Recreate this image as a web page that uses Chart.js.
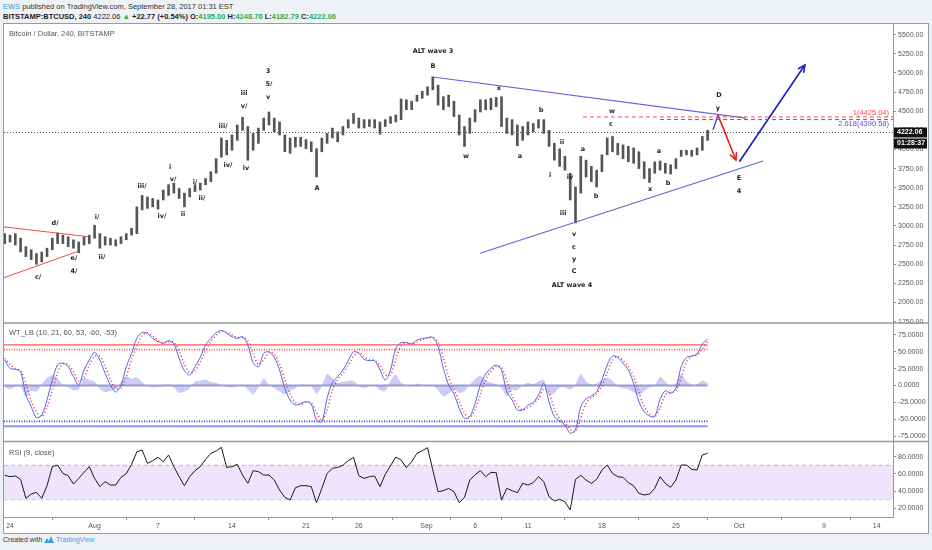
<!DOCTYPE html>
<html>
<head>
<meta charset="utf-8">
<script src="https://cdn.jsdelivr.net/npm/chart.js@4.4.0/dist/chart.umd.min.js"></script>
<style>
body { margin: 0; width: 932px; height: 550px; overflow: hidden; background: #eef1f5; font-family: "Liberation Sans", Arial, sans-serif; }
#h1 { position: absolute; left: 3px; top: 2px; font-size: 7.5px; color: #333; white-space: nowrap; }
#h2 { position: absolute; left: 3px; top: 12px; font-size: 7.5px; color: #222; font-weight: bold; white-space: nowrap; }
#h2 .g { color: #2fa84f; }
#box { position: absolute; left: 3px; top: 23px; width: 924px; height: 509px; border: 1px solid #9a9a9a; background: #fff; }
#ft { position: absolute; left: 3px; top: 536px; font-size: 7px; color: #333; white-space: nowrap; }
#ft .tv { color: #3aa3e3; }
</style>
</head>
<body>
<div id="h1"><span style="color:#2e9be6">EWS</span> published on TradingView.com, September 28, 2017 01:31 EST</div>
<div id="h2">BITSTAMP:BTCUSD, 240 <span style="font-weight:normal">4222.06</span> <span class="g">▲</span> +22.77 (+0.54%) O:<span class="g">4195.00</span> H:<span class="g">4248.76</span> L:<span class="g">4182.79</span> C:<span class="g">4222.06</span></div>
<div id="box"><canvas id="c" width="924" height="509"></canvas></div>
<div id="ft">Created with <svg width="10" height="7" viewBox="0 0 10 7" style="vertical-align:-1px"><path d="M0 7 L3 2 L5 5 L7 0 L10 7 Z" fill="#3aa3e3"/></svg> <span class="tv">TradingView</span></div>
<script>
// days counted from 24 Jul 2017, one bar every 12 hours
const firstBarDay = -0.5;
const barStep = 0.5;

const barLow = [2770,2790,2750,2660,2600,2560,2500,2530,2600,2690,
  2770,2770,2730,2710,2650,2750,2770,2840,2710,2750,
  2750,2740,2770,2820,2880,2900,3210,3230,3250,3220,
  3340,3400,3430,3360,3250,3380,3450,3470,3540,3580,
  3690,3900,3930,3990,4120,4250,3860,3990,4080,4250,
  4320,4230,4190,3970,3950,4030,4040,4010,3970,3640,
  3970,4080,4150,4100,4190,4280,4340,4280,4280,4300,
  4280,4200,4300,4340,4360,4390,4520,4520,4630,4670,
  4710,4780,4580,4520,4560,4430,4190,4040,4210,4360,
  4490,4520,4520,4560,4300,4210,4190,4050,4120,4190,
  4230,4280,4210,4040,3860,3780,3730,3340,3040,3430,
  3640,3580,3510,3710,3930,3970,3930,3880,3840,3820,
  3750,3620,3570,3690,3730,3690,3680,3750,3910,3930,
  3910,3930,3990,4120];
const barHigh = [2900,2880,2900,2840,2730,2690,2640,2660,2710,2840,
  2910,2880,2860,2820,2790,2860,2880,3010,2900,2860,
  2840,2820,2860,2900,2970,3250,3400,3380,3360,3340,
  3470,3540,3560,3490,3430,3490,3540,3560,3620,3710,
  3880,4150,4120,4190,4320,4420,4300,4210,4280,4410,
  4490,4410,4360,4190,4150,4160,4160,4130,4100,4010,
  4150,4210,4280,4230,4300,4390,4470,4410,4390,4390,
  4390,4360,4390,4430,4450,4660,4650,4630,4710,4760,
  4820,4950,4840,4690,4710,4630,4450,4300,4410,4520,
  4650,4650,4670,4680,4690,4410,4390,4320,4300,4360,
  4340,4390,4390,4250,4080,4010,3910,3690,3510,3910,
  3860,3780,3730,3930,4150,4170,4080,4060,4040,4020,
  3970,3840,3750,3840,3850,3820,3800,3880,3990,3990,
  3990,4020,4170,4250];

const wt1 = [37.7,25.3,23.9,20.4,-14,-31.2,-47.5,-43.5,-21.4,8.1,
  30.3,33.2,27.8,13,0.7,22.9,37.6,49,37.6,18,
  0.7,-9.6,0.7,27.8,47.5,69.6,78.5,77,69.6,64.7,
  62.3,66.2,61.3,40.1,21.9,15.5,27.8,41.6,59.8,69.6,
  78,81.4,77,72.1,69.6,72.1,59.8,33.7,27.8,47.5,
  49.9,41.6,22.9,-4.2,-21.4,-28.8,-26.3,-23.9,-27.3,-50.9,
  -53.4,-18.9,4.2,13,22.9,36.7,49.9,47.5,38.6,36.7,
  36.7,22.9,8.1,22.9,54.9,63.2,63.2,61.3,67.2,69.1,
  70.6,71.1,57.3,25.3,0.7,-12.5,-33.7,-48.5,-46,-26.3,
  0.7,17,25.3,30.3,22.9,-9.1,-21.4,-36.2,-36.2,-28.8,
  -25.3,-14,3.2,-23.9,-46,-52.4,-58.3,-70.6,-65.7,-31.2,
  -19.9,-15.5,-9.1,8.1,30.3,43.6,41.6,32.7,22.9,3.2,
  -23.9,-38.6,-45,-46,-20.4,-7.6,-11.6,-4.2,27.8,41.6,
  43.6,46.5,61.3,68.6];
const wt2 = [40,31,25,22,3,-23,-39,-46,-32,-7,
  19,32,31,20,7,12,30,43,43,28,
  9,-4,-4,14,38,58,74,78,73,67,
  63,64,64,51,31,19,22,35,51,65,
  74,80,79,75,71,71,66,47,31,38,
  49,46,32,9,-13,-25,-28,-25,-26,-39,
  -52,-36,-7,9,18,30,43,49,43,38,
  37,30,16,16,39,59,63,62,64,68,
  70,71,64,41,13,-6,-23,-41,-47,-36,
  -13,9,21,28,27,7,-15,-29,-36,-33,
  -27,-20,-5,-10,-35,-49,-55,-65,-68,-48,
  -26,-18,-12,0,19,37,43,37,28,13,
  -10,-31,-42,-46,-33,-14,-10,-8,12,35,
  43,45,54,65];
const wtHist = [-2,-6,-1,-2,-17,-8,-9,2,11,15,
  11,1,-3,-7,-6,11,8,6,-5,-10,
  -8,-6,5,14,10,12,5,-1,-3,-2,
  -1,2,-3,-11,-9,-4,6,7,9,5,
  4,1,-2,-3,-1,1,-6,-13,-3,10,
  1,-4,-9,-13,-8,-4,2,1,-1,-12,
  -1,17,11,4,5,7,7,-1,-4,-1,
  0,-7,-8,7,16,4,0,-1,3,1,
  1,0,-7,-16,-12,-6,-11,-8,1,10,
  14,8,4,2,-4,-16,-7,-7,0,4,
  2,6,8,-14,-11,-3,-3,-6,2,17,
  6,2,3,8,11,7,-1,-4,-5,-10,
  -14,-8,-3,0,13,6,-2,4,16,7,
  1,2,7,4];
const rsi = [58.3,56.8,57.6,53.7,31.6,36.6,38.6,31.6,46.3,68.4,
  70.3,60.6,57.9,48.2,54.8,61.8,68.4,54.8,45.2,51,
  47.1,47.1,56,60.3,71.1,85.8,87.8,72.3,75.4,79.3,
  74.2,82,68.4,56.8,46.3,56.8,63.8,68.4,76.9,83.9,
  86.6,90.9,67.6,68.4,71.1,58.7,49,63.8,62.6,58.7,
  58.7,52.9,41.3,32.7,29.6,44,46.3,46.3,45.2,26.5,
  43.2,60.6,66.5,67.6,70,75.4,79.3,57.9,54.8,56.8,
  57.6,45.2,59.5,69.6,79.6,76.2,67.2,74.2,83.9,87,
  90.5,64.5,39.3,40.5,43.2,39.3,26.5,32.7,52.9,59.1,
  63.8,56.8,61.8,61.4,29.6,43.2,40.5,38.2,49,47.1,
  49.8,56.8,51,33.5,28.5,30.4,27.7,18,53.7,58.3,
  52.9,49,53.7,64.5,70.3,60.6,56.8,56,49.8,46.3,
  37.4,35.5,36.6,43.2,56.8,49,44.4,52.9,70.3,70.3,
  65.3,64.5,82,84];

const xTickDays = [0, 8, 14, 21, 28, 33, 39.4, 44, 49, 56, 63, 69, 77, 82];
const xTickLabels = ['24', 'Aug', '7', '14', '21', '26', 'Sep', '6', '11', '18', '25', 'Oct', '9', '14'];
const priceTicks = [1750,2000,2250,2500,2750,3000,3250,3500,3750,4000,4250,4500,4750,5000,5250,5500];
const wtTicks = [-75, -50, -25, 0, 25, 50, 75];
const rsiTicks = [20, 40, 60, 80];

const lastClose = 4222.06;
const fibLevels = [4425.04, 4390.58];
const fibTexts = ['1(4425.04)', '2.618(4390.58)'];
const fibStartDays = [54.2, 61.5];
const wtLevels = [60, 53, 0, -53, -60];

const redWedgeTop = [[-0.66, 2990], [7.38, 2860]];
const redWedgeBottom = [[-0.66, 2320], [6.34, 2664]];
const blueWedgeTop = [[40.02, 4947], [69.64, 4411]];
const blueWedgeBottom = [[44.47, 2643], [71.24, 3849]];
const legToD = [[66.51, 4254], [66.98, 4449]];
const arrowToE = [[66.98, 4449], [68.68, 3862]];
const arrowUp = [[69.0, 3840], [75.2, 5104]];

const waveText = ['c/','d/','e/','4/','i/','ii/','iii/','iv/','i','v/','ii','i/','ii/','iii/','iv/','iii','v/','iv','3','5/','v','A',
  'ALT wave 3','B','w','x','a','b','ii','i','iv','iii','v','c','y','C','ALT wave 4','a','b','w','c','a','x','b','D','y','E','4'];
const waveDay = [2.65,4.26,6.05,6.05,8.23,8.7,12.49,14.38,15.14,15.42,16.37,17.5,18.16,20.15,20.62,22.14,22.14,22.33,24.41,24.5,24.41,29.04,
  40.02,40.02,43.14,46.26,48.25,50.24,52.22,51.09,52.98,52.32,53.36,53.36,53.36,53.36,53.17,54.21,55.44,56.95,56.86,61.4,60.55,62.25,67.08,66.98,68.97,68.97];
const wavePrice = [2333,3039,2582,2412,3117,2595,3523,3130,3771,3614,3157,3575,3366,4307,3797,4738,4568,3758,5026,4856,4686,3496,
  5287,5091,3915,4803,3915,4516,4098,3666,3640,3170,2895,2725,2568,2412,2229,4006,3392,4503,4333,3980,3483,3562,4712,4542,3627,3457];

const X_MIN = -0.57, X_MAX = 83.54;
const barDays = barLow.map((_, i) => firstBarDay + i * barStep);
const lastDay = barDays[barDays.length - 1];

function series(values) {
  return values.map((v, i) => ({ x: barDays[i], y: v }));
}
function pts(pairs) {
  return pairs.map(p => ({ x: p[0], y: p[1] }));
}
function flat(value, from, to) {
  return [{ x: from, y: value }, { x: to, y: value }];
}
function line(data, axis, color, width, extra) {
  return Object.assign({
    type: 'line', data: data, yAxisID: axis, borderColor: color, borderWidth: width,
    pointRadius: 0, fill: false, tension: 0, order: 0
  }, extra || {});
}

const datasets = [
  {
    type: 'bar', yAxisID: 'yPrice', order: 2,
    data: barDays.map((d, i) => ({ x: d, y: [barLow[i], barHigh[i]] })),
    backgroundColor: '#555', borderWidth: 0, barThickness: 2, grouped: false
  },
  line(flat(lastClose, X_MIN, X_MAX), 'yPrice', '#555', 1, { borderDash: [1, 2], order: 3 }),
  line(flat(fibLevels[0], fibStartDays[0], X_MAX), 'yPrice', '#f05050', 1, { borderDash: [4, 3] }),
  line(flat(fibLevels[1], fibStartDays[1], X_MAX), 'yPrice', '#5050e8', 1, { borderDash: [4, 3] }),
  line(pts(redWedgeTop), 'yPrice', '#f24e4e', 1),
  line(pts(redWedgeBottom), 'yPrice', '#f24e4e', 1),
  line(pts(blueWedgeTop), 'yPrice', '#6464dc', 1.2),
  line(pts(blueWedgeBottom), 'yPrice', '#6464dc', 1.2),
  line(pts(legToD), 'yPrice', '#3a3ae0', 1.3),
  line(pts(arrowToE), 'yPrice', '#e8231e', 1.6, { arrow: true }),
  line(pts(arrowUp), 'yPrice', '#1c1cc4', 1.6, { arrow: true }),

  // WT_LB pane
  line(series(wtHist), 'yWT', 'rgba(0,0,0,0)', 0, { fill: 'origin', backgroundColor: 'rgba(120,120,235,0.38)', tension: 0.3, order: 6 }),
  line(flat(wtLevels[0], X_MIN, lastDay), 'yWT', 'rgba(255,70,70,0.9)', 1.2, { order: 4 }),
  line(flat(wtLevels[1], X_MIN, lastDay), 'yWT', '#ff5050', 1.6, { borderDash: [1, 1.5], order: 4 }),
  line(flat(wtLevels[2], X_MIN, lastDay), 'yWT', 'rgba(140,145,200,0.85)', 2, { order: 4 }),
  line(flat(wtLevels[3], X_MIN, lastDay), 'yWT', '#3a3ae8', 1.6, { borderDash: [1, 1.5], order: 4 }),
  line(flat(wtLevels[4], X_MIN, lastDay), 'yWT', 'rgba(130,130,225,0.85)', 2, { order: 4 }),
  line(series(wt2), 'yWT', '#e83030', 1.5, { borderDash: [1, 2.5], tension: 0.3, order: 1 }),
  line(series(wt1), 'yWT', '#5a60ee', 1, { tension: 0.3, order: 0 }),

  // RSI pane
  line(flat(70, X_MIN, X_MAX), 'yRSI', '#b9b9b9', 1, { borderDash: [4, 3], fill: '+1', backgroundColor: 'rgba(232,220,252,0.75)', order: 6 }),
  line(flat(30, X_MIN, X_MAX), 'yRSI', '#b9b9b9', 1, { borderDash: [4, 3], order: 6 }),
  line(series(rsi), 'yRSI', '#1a1a1a', 1, { order: 0 })
];

function yAxis(min, max, weight, ticks, digits) {
  return {
    type: 'linear', position: 'right', stack: 'panes', stackWeight: weight, min: min, max: max,
    afterBuildTicks: s => { s.ticks = ticks.map(v => ({ value: v })); },
    afterFit: s => { s.width = 35; s.paddingTop = 0; s.paddingBottom = 0; },
    grid: { drawOnChartArea: false, tickLength: 3, color: '#999' },
    border: { color: '#999' },
    ticks: { autoSkip: false, font: { size: 7 }, color: '#555', padding: 2, callback: v => v.toFixed(digits) }
  };
}

const overlay = {
  id: 'overlay',
  afterDatasetsDraw(chart) {
    const ctx = chart.ctx;
    const xs = chart.scales.x, yp = chart.scales.yPrice;
    const area = chart.chartArea;

    // arrow heads
    chart.data.datasets.forEach((ds, i) => {
      if (!ds.arrow) return;
      const el = chart.getDatasetMeta(i).data;
      const a = el[el.length - 2], b = el[el.length - 1];
      const ang = Math.atan2(b.y - a.y, b.x - a.x);
      ctx.save();
      ctx.strokeStyle = ds.borderColor;
      ctx.lineWidth = ds.borderWidth;
      ctx.beginPath();
      ctx.moveTo(b.x - 8 * Math.cos(ang - 0.45), b.y - 8 * Math.sin(ang - 0.45));
      ctx.lineTo(b.x, b.y);
      ctx.lineTo(b.x - 8 * Math.cos(ang + 0.45), b.y - 8 * Math.sin(ang + 0.45));
      ctx.stroke();
      ctx.restore();
    });

    ctx.save();
    // wave labels
    ctx.font = 'bold 6.5px "DejaVu Sans"';
    ctx.fillStyle = '#1e1e1e';
    ctx.textAlign = 'center';
    ctx.textBaseline = 'middle';
    waveText.forEach((t, i) => {
      ctx.fillText(t, xs.getPixelForValue(waveDay[i]), yp.getPixelForValue(wavePrice[i]));
    });

    // fib level texts
    ctx.font = '7.5px "Liberation Sans"';
    ctx.textAlign = 'right';
    ctx.fillStyle = '#f05050';
    ctx.textBaseline = 'bottom';
    ctx.fillText(fibTexts[0], area.right - 4, yp.getPixelForValue(fibLevels[0]) - 0.5);
    ctx.fillStyle = '#5050e8';
    ctx.textBaseline = 'top';
    ctx.fillText(fibTexts[1], area.right - 4, yp.getPixelForValue(fibLevels[1]) + 0.5);
    ctx.restore();
  },
  afterDraw(chart) {
    const ctx = chart.ctx;
    const yp = chart.scales.yPrice, yw = chart.scales.yWT, yr = chart.scales.yRSI;
    const area = chart.chartArea;
    ctx.save();
    // pane separators
    ctx.strokeStyle = '#9a9a9a';
    ctx.lineWidth = 1.5;
    [yw.top, yr.top].forEach(y => {
      ctx.beginPath();
      ctx.moveTo(0, y);
      ctx.lineTo(chart.width, y);
      ctx.stroke();
    });
    // pane titles
    ctx.font = '7.5px "Liberation Sans"';
    ctx.fillStyle = '#555';
    ctx.textAlign = 'left';
    ctx.textBaseline = 'middle';
    ctx.fillText('Bitcoin / Dollar, 240, BITSTAMP', 5, yp.top + 10);
    ctx.fillText('WT_LB (10, 21, 60, 53, -60, -53)', 5, yw.top + 10);
    ctx.fillText('RSI (9, close)', 5, yr.top + 11);
    // last price tags
    const y = yp.getPixelForValue(lastClose);
    ctx.fillStyle = '#111';
    ctx.fillRect(area.right + 1, y - 5, 33, 10);
    ctx.fillRect(area.right + 1, y + 6, 33, 10);
    ctx.fillStyle = '#fff';
    ctx.font = 'bold 7px "Liberation Sans"';
    ctx.fillText('4222.06', area.right + 4, y);
    ctx.fillText('01:28:37', area.right + 4, y + 11);
    ctx.restore();
  }
};

Chart.defaults.font.family = '"Liberation Sans", Arial, sans-serif';

new Chart(document.getElementById('c'), {
  type: 'bar',
  data: { datasets: datasets },
  options: {
    responsive: false,
    animation: false,
    layout: { padding: 0 },
    plugins: { legend: { display: false }, tooltip: { enabled: false } },
    scales: {
      x: {
        type: 'linear', min: X_MIN, max: X_MAX, offset: false,
        afterBuildTicks: s => { s.ticks = xTickDays.map(v => ({ value: v })); },
        afterFit: s => { s.height = 16; s.paddingLeft = 0; s.paddingRight = 0; },
        grid: { drawOnChartArea: false, tickLength: 3, color: '#999' },
        border: { color: '#999' },
        ticks: {
          font: { size: 7 }, color: '#555', maxRotation: 0, autoSkip: false, padding: 2,
          callback: v => { const k = xTickDays.indexOf(v); return k >= 0 ? xTickLabels[k] : ''; }
        }
      },
      yPrice: yAxis(1732, 5640, 299, priceTicks, 2),
      yWT: yAxis(-82.7, 92.3, 118.5, wtTicks, 4),
      yRSI: yAxis(9.9, 97.7, 75.5, rsiTicks, 4)
    }
  },
  plugins: [overlay]
});
</script>
</body>
</html>
